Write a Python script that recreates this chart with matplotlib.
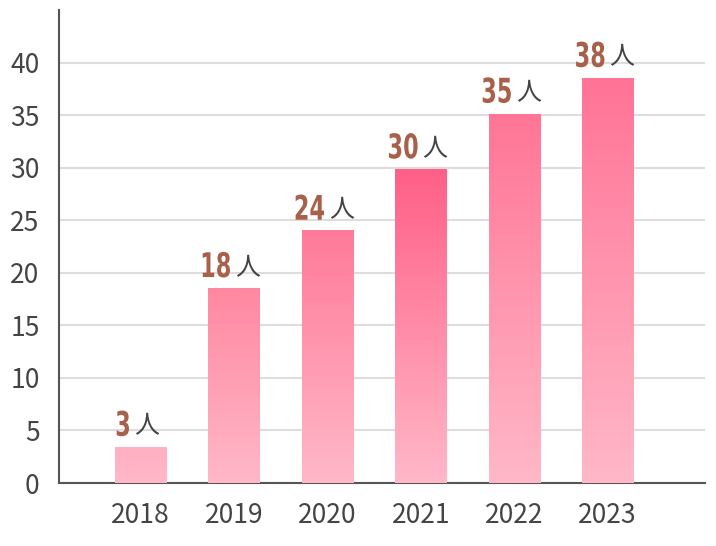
import numpy as np
import matplotlib
matplotlib.use('Agg')
import matplotlib.pyplot as plt
from matplotlib.colors import LinearSegmentedColormap
from matplotlib.textpath import TextPath
from matplotlib.font_manager import FontProperties
from matplotlib.patches import PathPatch
from matplotlib.transforms import Affine2D, ScaledTranslation

years = ['2018', '2019', '2020', '2021', '2022', '2023']
heights = [3.4, 18.5, 24.0, 29.8, 35.1, 38.5]
labels = ['3', '18', '24', '30', '35', '38']
top_colors = ['#ffb0c2', '#ff88a1', '#ff7a99', '#ff5f87', '#ff7596', '#ff7396']
bottom_color = '#ffb8c8'

plt.rcParams['font.family'] = ['Noto Sans CJK JP', 'DejaVu Sans']

fig = plt.figure(figsize=(7.16, 5.46), dpi=100)
ax = fig.add_axes([59/716, (546-483)/546, (705-59)/716, (483-10)/546])

x = np.arange(len(years))
bars = ax.bar(x, heights, width=0.55, color='none', zorder=3)

grad = np.linspace(0, 1, 256).reshape(-1, 1)
for b, c in zip(bars, top_colors):
    cmap = LinearSegmentedColormap.from_list('g', [bottom_color, c])
    x0, w, h = b.get_x(), b.get_width(), b.get_height()
    ax.imshow(grad, cmap=cmap, origin='lower', aspect='auto',
              extent=[x0, x0 + w, 0, h], zorder=3, interpolation='bicubic')

# condensed bold numbers drawn as paths
numprop = FontProperties(family='DejaVu Sans', weight='bold')
sx = 0.66
for b, lab in zip(bars, labels):
    cx = b.get_x() + b.get_width() / 2
    top = b.get_height()
    tp = TextPath((0, 0), lab, size=34, prop=numprop)
    bb = tp.get_extents()
    wn = bb.width * sx
    start = -(wn + 6 + 23) / 2 - 3
    tr = (Affine2D().translate(-bb.x0, -bb.y0).scale(sx, 1).translate(start, 11)
          + ScaledTranslation(cx, top, ax.transData))
    ax.add_patch(PathPatch(tp, transform=tr, facecolor='#a8604a', lw=0, zorder=4))
    ax.annotate('人', (cx, top), xytext=((start + wn + 5) * 0.72, 5.5),
                textcoords='offset points', ha='left', va='bottom',
                fontsize=18, color='#444444', zorder=4)

ax.set_xlim(-0.87, 6.04)
ax.set_ylim(0, 45)
ax.set_yticks(range(0, 41, 5))
ax.set_xticks(x)
ax.set_xticklabels(years)
ax.yaxis.grid(True, color='#dddddd', linewidth=1.5, zorder=0)
ax.set_axisbelow(True)
ax.tick_params(axis='both', length=0, labelsize=19, labelcolor='#444444')
ax.tick_params(axis='x', pad=14)
ax.tick_params(axis='y', pad=14)
for s in ['top', 'right']:
    ax.spines[s].set_visible(False)
for s in ['left', 'bottom']:
    ax.spines[s].set_color('#555555')
    ax.spines[s].set_linewidth(1.5)

fig.savefig('out.png', dpi=100)
